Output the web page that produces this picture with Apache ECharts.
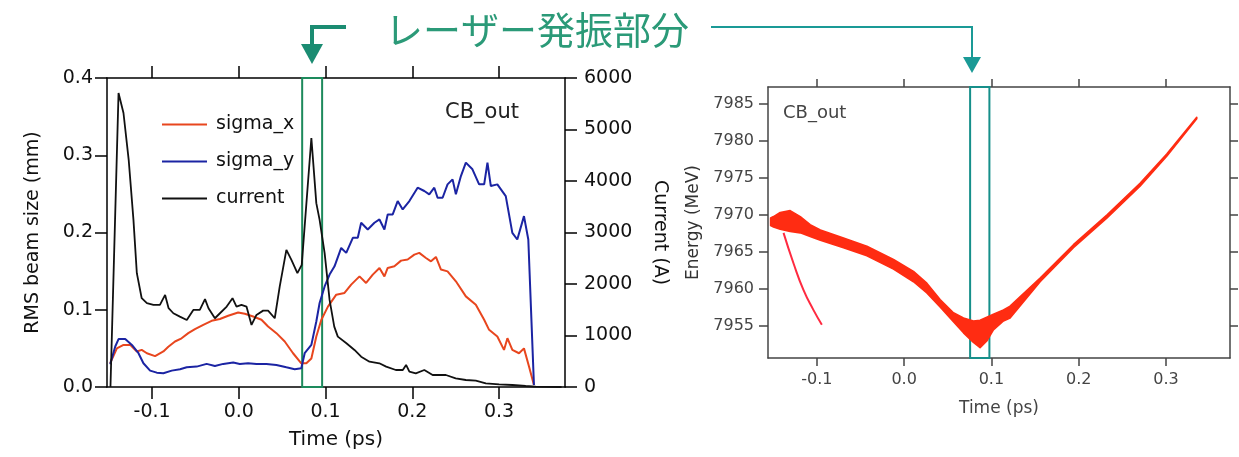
<!DOCTYPE html>
<html><head><meta charset="utf-8">
<script src="https://cdn.jsdelivr.net/npm/echarts@6/dist/echarts.min.js"></script>
<style>html,body{margin:0;padding:0;background:#fff}#c{width:1239px;height:457px}</style>
</head><body><div id="c"></div>
<script>
// ---------- data: left panel ----------
const sxTime = [-0.1483,-0.1406,-0.133,-0.1253,-0.1176,-0.112,-0.106,-0.0966,-0.087,-0.0813,-0.0736,-0.066,-0.0583,-0.0506,-0.041,-0.0314,-0.0218,-0.0123,-0.0008,0.0069,0.0165,0.0261,0.0337,0.0433,0.0529,0.0625,0.072,0.0778,0.0836,0.0893,0.0951,0.1027,0.1123,0.1218,0.1295,0.1391,0.1467,0.1544,0.1621,0.1678,0.1716,0.1793,0.187,0.1946,0.2023,0.208,0.2157,0.2215,0.2272,0.233,0.2406,0.2502,0.2617,0.2732,0.2828,0.2885,0.298,0.3057,0.3096,0.3153,0.323,0.3287,0.3345,0.3402];
const sxValue = [0.031,0.050,0.0545,0.0545,0.046,0.048,0.0437,0.040,0.046,0.052,0.0589,0.063,0.0697,0.075,0.0805,0.0857,0.088,0.0922,0.0965,0.0948,0.0913,0.087,0.0783,0.0697,0.0589,0.0437,0.0307,0.0307,0.037,0.0654,0.087,0.104,0.1195,0.1217,0.1325,0.1432,0.1347,0.1455,0.1541,0.1432,0.1541,0.1562,0.1636,0.165,0.1714,0.1736,0.167,0.1627,0.1684,0.152,0.1497,0.1368,0.1173,0.1065,0.087,0.074,0.0654,0.048,0.0632,0.048,0.0437,0.050,0.0264,0.0026];
const syTime = [-0.1483,-0.1425,-0.1387,-0.131,-0.1233,-0.1157,-0.11,-0.1023,-0.0946,-0.087,-0.0774,-0.0678,-0.0601,-0.0486,-0.0371,-0.0276,-0.018,-0.0065,0.0011,0.0107,0.0203,0.0318,0.0433,0.0548,0.0644,0.072,0.0759,0.0836,0.0893,0.0931,0.0989,0.1046,0.1103,0.118,0.1238,0.1314,0.1371,0.141,0.1486,0.1563,0.1621,0.1678,0.1716,0.1774,0.1831,0.1889,0.1966,0.2061,0.2138,0.2195,0.2253,0.2291,0.2349,0.2406,0.2464,0.2502,0.256,0.2617,0.2693,0.277,0.2828,0.2866,0.2905,0.298,0.3077,0.3153,0.321,0.3287,0.3337,0.3402];
const syValue = [0.0294,0.0524,0.062,0.062,0.0545,0.0437,0.0307,0.0212,0.0186,0.0178,0.0212,0.023,0.0255,0.0264,0.0299,0.0273,0.0299,0.0316,0.0299,0.0307,0.0299,0.0299,0.0286,0.0255,0.023,0.0242,0.0437,0.0545,0.0848,0.1087,0.1302,0.1455,0.1562,0.180,0.1736,0.1931,0.1931,0.2126,0.2039,0.2126,0.2169,0.2039,0.2234,0.2234,0.2407,0.2299,0.2407,0.258,0.2537,0.2494,0.258,0.245,0.245,0.2623,0.2688,0.2494,0.2731,0.2905,0.2818,0.2623,0.2623,0.2905,0.2601,0.2623,0.2471,0.1996,0.1909,0.2212,0.1909,0.0026];
const curTime = [-0.148,-0.1387,-0.133,-0.127,-0.1215,-0.1176,-0.112,-0.106,-0.0985,-0.091,-0.085,-0.081,-0.0755,-0.068,-0.060,-0.0525,-0.045,-0.039,-0.035,-0.0276,-0.0218,-0.014,-0.0073,-0.0027,0.003,0.0088,0.0146,0.0203,0.028,0.0337,0.0414,0.0471,0.0548,0.0606,0.0675,0.0725,0.0836,0.0893,0.0931,0.0989,0.1046,0.110,0.1141,0.124,0.1333,0.141,0.1506,0.162,0.1698,0.181,0.189,0.1928,0.1966,0.204,0.2138,0.2234,0.231,0.2387,0.25,0.2617,0.2732,0.2847,0.300,0.3153,0.3307,0.3421,0.372];
const curValue = [0,5708,5320,4412,3246,2210,1724,1627,1594,1594,1788,1530,1432,1366,1302,1497,1497,1705,1530,1335,1432,1561,1724,1561,1594,1561,1205,1400,1483,1483,1335,1950,2663,2468,2210,2371,4834,3570,3246,2599,1691,1172,978,849,719,589,492,460,395,330,330,428,297,266,330,233,233,233,169,136,123,72,52,39,19,6,0];

// ---------- data: right panel (energy vs time band) ----------
const bandTime  = [-0.153,-0.1497,-0.142,-0.1306,-0.119,-0.1077,-0.096,-0.0695,-0.0427,-0.0122,0.0107,0.026,0.0412,0.0565,0.068,0.0794,0.087,0.0947,0.1023,0.1138,0.1214,0.1558,0.194,0.2322,0.2703,0.3009,0.3353];
const bandUpper = [7969.6,7969.8,7970.35,7970.6,7969.8,7968.7,7968.0,7966.9,7965.8,7964.0,7962.4,7960.8,7958.6,7956.8,7956.1,7955.7,7955.8,7956.2,7956.6,7957.2,7957.7,7961.5,7966.0,7970.0,7974.3,7978.25,7983.2];
const bandLower = [7968.6,7968.4,7968.1,7967.8,7967.6,7967.1,7966.6,7965.6,7964.5,7962.7,7961.0,7959.5,7957.6,7955.6,7954.1,7952.8,7952.1,7953.0,7954.5,7955.7,7956.1,7961.0,7965.6,7969.6,7973.9,7977.95,7983.0];
const branchTime   = [-0.1382,-0.1268,-0.1154,-0.104,-0.0943];
const branchEnergy = [7967.6,7963.5,7959.9,7957.2,7955.2];

// ---------- ticks / annotations ----------
const leftTimeTicks  = [-0.1,0.0,0.1,0.2,0.3];
const sizeTicks      = [0.0,0.1,0.2,0.3,0.4];
const currentTicks   = [0,1000,2000,3000,4000,5000,6000];
const rightTimeTicks = [-0.1,0.0,0.1,0.2,0.3];
const energyTicks    = [7955,7960,7965,7970,7975,7980,7985];
const laserWindowLeft  = [0.073,0.096];
const laserWindowRight = [0.0756,0.0977];
const legendNames = ['sigma_x','sigma_y','current'];

const FONT = 'DejaVu Sans';
const zip = (a,b)=>a.map((v,i)=>[v,b[i]]);
const fmt1 = v => (Math.abs(v)<1e-9?0:v).toFixed(1);
const fmt0 = v => String(Math.round(v));

const blk = {color:'#000',width:1.5};
const gry = {color:'#444',width:1.5};
const lineIcon = 'path://M0,0H45V2H0Z';

const option = {
  animation:false,
  backgroundColor:'#fff',
  grid:[{left:107,right:674,top:78,bottom:70},{left:768,right:9,top:87,bottom:99}],
  legend:{data:legendNames.map(n=>({name:n,icon:lineIcon})),orient:'vertical',left:157,top:110,itemWidth:45,itemHeight:14,itemGap:18,
    textStyle:{fontSize:19,fontFamily:FONT,color:'#111',padding:[0,0,0,4]}},
  xAxis:[
    {gridIndex:0,type:'value',min:-0.152,max:0.376,position:'bottom',
      axisLine:{onZero:false,lineStyle:blk},
      axisTick:{inside:false,length:12,customValues:leftTimeTicks,lineStyle:blk},
      axisLabel:{customValues:leftTimeTicks,formatter:fmt1,color:'#111',fontSize:19,fontFamily:FONT,margin:16},
      splitLine:{show:false},
      name:'Time (ps)',nameLocation:'middle',nameGap:43,nameTextStyle:{fontSize:20,fontFamily:FONT,color:'#111'}},
    {gridIndex:0,type:'value',min:-0.152,max:0.376,position:'top',
      axisLine:{onZero:false,lineStyle:blk},
      axisTick:{inside:false,length:12,customValues:leftTimeTicks,lineStyle:blk},
      axisLabel:{show:false},splitLine:{show:false}},
    {gridIndex:1,type:'value',min:-0.156,max:0.3734,position:'bottom',
      axisLine:{onZero:false,lineStyle:gry},
      axisTick:{inside:false,length:8,customValues:rightTimeTicks,lineStyle:gry},
      axisLabel:{customValues:rightTimeTicks,formatter:fmt1,color:'#444',fontSize:16,fontFamily:FONT,margin:14},
      splitLine:{show:false},
      name:'Time (ps)',nameLocation:'middle',nameGap:42,nameTextStyle:{fontSize:17,fontFamily:FONT,color:'#444'}},
    {gridIndex:1,type:'value',min:-0.156,max:0.3734,position:'top',
      axisLine:{onZero:false,lineStyle:gry},
      axisTick:{inside:false,length:8,customValues:rightTimeTicks,lineStyle:gry},
      axisLabel:{show:false},splitLine:{show:false}}
  ],
  yAxis:[
    {gridIndex:0,type:'value',min:0,max:0.4,position:'left',
      axisLine:{show:true,onZero:false,lineStyle:blk},
      axisTick:{show:true,inside:false,length:12,customValues:sizeTicks,lineStyle:blk},
      axisLabel:{customValues:sizeTicks,formatter:fmt1,color:'#111',fontSize:19,fontFamily:FONT,margin:14},
      splitLine:{show:false},
      name:'RMS beam size (mm)',nameLocation:'middle',nameRotate:90,nameGap:64,nameTextStyle:{fontSize:19,fontFamily:FONT,color:'#111'}},
    {gridIndex:0,type:'value',min:0,max:6000,position:'right',
      axisLine:{show:true,onZero:false,lineStyle:blk},
      axisTick:{show:true,inside:false,length:12,customValues:currentTicks,lineStyle:blk},
      axisLabel:{customValues:currentTicks,formatter:fmt0,color:'#111',fontSize:19,fontFamily:FONT,margin:19},
      splitLine:{show:false},
      name:'Current (A)',nameLocation:'middle',nameRotate:-90,nameGap:85,nameTextStyle:{fontSize:19,fontFamily:FONT,color:'#111'}},
    {gridIndex:1,type:'value',min:7950.7,max:7987.3,position:'left',
      axisLine:{show:true,onZero:false,lineStyle:gry},
      axisTick:{show:true,inside:false,length:9,customValues:energyTicks,lineStyle:gry},
      axisLabel:{customValues:energyTicks,formatter:fmt0,color:'#444',fontSize:16,fontFamily:FONT,margin:14},
      splitLine:{show:false},
      name:'Energy (MeV)',nameLocation:'middle',nameRotate:90,nameGap:66,nameTextStyle:{fontSize:17,fontFamily:FONT,color:'#333'}},
    {gridIndex:1,type:'value',min:7950.7,max:7987.3,position:'right',
      axisLine:{show:true,onZero:false,lineStyle:gry},
      axisTick:{show:true,inside:false,length:8,customValues:energyTicks,lineStyle:gry},
      axisLabel:{show:false},splitLine:{show:false}}
  ],
  series:[
    {name:'sigma_x',type:'line',xAxisIndex:0,yAxisIndex:0,data:zip(sxTime,sxValue),symbol:'none',
      color:'#e8461e',lineStyle:{width:2,color:'#e8461e'},z:3,
      markArea:{silent:true,itemStyle:{color:'rgba(0,0,0,0)',borderColor:'#1d8a5c',borderWidth:2},
        data:[[{xAxis:laserWindowLeft[0]},{xAxis:laserWindowLeft[1]}]]}},
    {name:'sigma_y',type:'line',xAxisIndex:0,yAxisIndex:0,data:zip(syTime,syValue),symbol:'none',
      color:'#1b24a3',lineStyle:{width:2,color:'#1b24a3'},z:3},
    {name:'current',type:'line',xAxisIndex:0,yAxisIndex:1,data:zip(curTime,curValue),symbol:'none',
      color:'#111',lineStyle:{width:1.8,color:'#111'},z:3},
    {name:'band',type:'custom',coordinateSystem:'cartesian2d',xAxisIndex:2,yAxisIndex:2,
      data:[[bandTime[0],bandUpper[0]]],
      renderItem:(params,api)=>{
        const up = bandTime.map((t,i)=>api.coord([t,bandUpper[i]]));
        const lo = bandTime.map((t,i)=>api.coord([t,bandLower[i]])).reverse();
        return {type:'polygon',shape:{points:up.concat(lo)},
          style:{fill:'#ff2c12',stroke:'#ff2c12',lineWidth:1.6,lineJoin:'round'}};
      }},
    {name:'branch',type:'line',xAxisIndex:2,yAxisIndex:2,data:zip(branchTime,branchEnergy),symbol:'none',smooth:true,
      lineStyle:{width:2,color:'#ff2a40'},
      markArea:{silent:true,itemStyle:{color:'rgba(0,0,0,0)',borderColor:'#168f8a',borderWidth:2},
        data:[[{xAxis:laserWindowRight[0]},{xAxis:laserWindowRight[1]}]]}}
  ],
  graphic:[
    {type:'text',left:385,top:11,z:10,style:{text:'レーザー発振部分',fontSize:38,fontFamily:'Noto Sans CJK JP',fill:'#2b9a78'}},
    {type:'polyline',z:10,shape:{points:[[346,27],[312,27],[312,46]]},style:{stroke:'#1b8c72',lineWidth:4,fill:null}},
    {type:'polygon',z:10,shape:{points:[[301,44],[323,44],[312,64]]},style:{fill:'#1b8c72'}},
    {type:'polyline',z:10,shape:{points:[[711,27],[972,27],[972,58]]},style:{stroke:'#1a9a96',lineWidth:2,fill:null}},
    {type:'polygon',z:10,shape:{points:[[963,57],[981,57],[972,73]]},style:{fill:'#1a9a96'}},
    {type:'text',left:445,top:102,z:10,style:{text:'CB_out',fontSize:21,fontFamily:FONT,fill:'#222'}},
    {type:'text',left:783,top:104,z:10,style:{text:'CB_out',fontSize:18,fontFamily:FONT,fill:'#444'}}
  ]
};
const chart = echarts.init(document.getElementById('c'));
chart.setOption(option);
</script>
</body></html>
